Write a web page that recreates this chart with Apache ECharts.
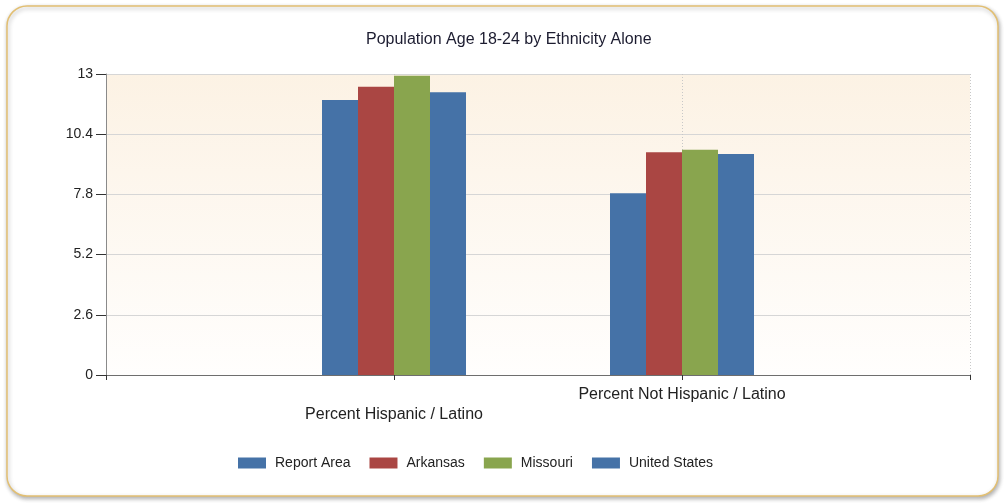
<!DOCTYPE html>
<html>
<head>
<meta charset="utf-8">
<script src="https://cdn.jsdelivr.net/npm/echarts@6/dist/echarts.min.js"></script>
<style>
html,body{margin:0;padding:0;background:#fff;}
#chart{width:1005px;height:504px;}
</style>
</head>
<body>
<div id="chart"></div>
<script>
const titleText = 'Population Age 18-24 by Ethnicity Alone';
const categories = ['Percent Hispanic / Latino', 'Percent Not Hispanic / Latino'];
const seriesNames = ['Report Area', 'Arkansas', 'Missouri', 'United States'];
const reportArea = [11.88, 7.85];
const arkansas = [12.45, 9.62];
const missouri = [12.92, 9.73];
const unitedStates = [12.21, 9.55];
const colors = ['#4572A7', '#AA4643', '#89A54E', '#4572A7'];
const yMin = 0, yMax = 13, yStep = 2.6;

const FONT = '"Liberation Sans", Arial, sans-serif';
// pad the category axis with empty slots on each side (as in the reference layout)
const axisCats = [''].concat(categories, ['']);
const pad = arr => [null].concat(arr, [null]);
const allValues = [reportArea, arkansas, missouri, unitedStates];

const chart = echarts.init(document.getElementById('chart'), null, {renderer: 'canvas'});
chart.setOption({
  animation: false,
  backgroundColor: '#ffffff',
  graphic: [{
    type: 'rect',
    z: -100,
    silent: true,
    shape: {x: 7, y: 6, width: 991, height: 490, r: 20},
    style: {fill: '#ffffff', stroke: '#E2BF72', lineWidth: 1.5,
            shadowBlur: 4, shadowOffsetX: 1, shadowOffsetY: 2, shadowColor: 'rgba(0,0,0,0.3)'}
  }],
  title: {
    text: titleText,
    left: 366,
    top: 32,
    padding: 0,
    textStyle: {fontFamily: FONT, fontSize: 16, fontWeight: 'normal', color: '#1c1c30'}
  },
  legend: {
    left: 238,
    top: 456,
    padding: 0,
    itemWidth: 28,
    itemHeight: 11,
    itemGap: 19,
    icon: 'rect',
    data: seriesNames,
    textStyle: {fontFamily: FONT, fontSize: 14, color: '#222', padding: [0, 0, 0, 4]}
  },
  grid: {
    left: 106, right: 35, top: 74, bottom: 129,
    show: true,
    borderWidth: 0,
    backgroundColor: new echarts.graphic.LinearGradient(0, 0, 0, 1, [
      {offset: 0, color: '#FCF2E4'},
      {offset: 1, color: '#FFFEFD'}
    ])
  },
  xAxis: {
    type: 'category',
    data: axisCats,
    boundaryGap: false,
    axisLine: {lineStyle: {color: '#6e6e6e', width: 1}},
    axisTick: {show: true, alignWithLabel: true, length: 5, interval: 0, lineStyle: {color: '#333'}},
    splitLine: {show: true, interval: 0, lineStyle: {color: '#c8c8c8', type: [1, 2], width: 1}},
    axisLabel: {
      interval: 0,
      margin: 10,
      fontFamily: FONT, fontSize: 16, color: '#222', lineHeight: 20,
      formatter: (v, i) => (i === 1 ? '\n' + v : v)
    }
  },
  yAxis: {
    type: 'value',
    min: yMin, max: yMax, interval: yStep,
    axisLine: {show: true, lineStyle: {color: '#8a8a8a', width: 1}},
    axisTick: {show: true, length: 10, lineStyle: {color: '#333'}},
    splitLine: {show: true, lineStyle: {color: '#d6d6d6', width: 1}},
    axisLabel: {
      margin: 13,
      fontFamily: FONT, fontSize: 14, color: '#222',
      formatter: v => String(Number(v.toFixed(1)))
    }
  },
  series: seriesNames.map((name, k) => ({
    name: name,
    type: 'bar',
    data: pad(allValues[k]),
    barWidth: 36,
    barGap: '0%',
    itemStyle: {color: colors[k]}
  }))
});
</script>
</body>
</html>
